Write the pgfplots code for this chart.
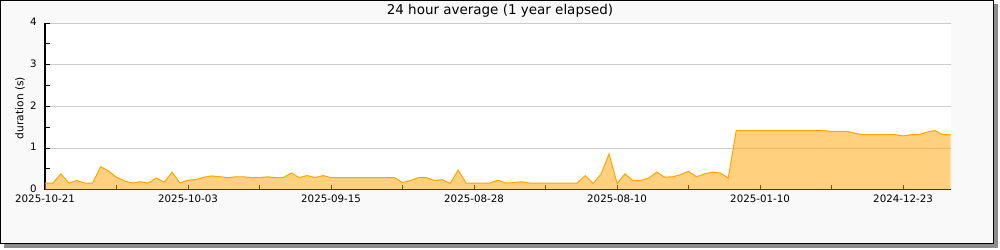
\documentclass[border=0pt]{standalone}
\usepackage{fontspec}
\setmainfont{DejaVu Sans}
\usepackage{pgfplots}
\usepackage{pgfplotstable}
\pgfplotsset{compat=1.18}
\definecolor{canvas}{HTML}{F9F9F9}
\definecolor{gridc}{HTML}{CCCCCC}
\definecolor{lineor}{HTML}{FFA500}
\pgfplotstableread{
d v
0 0.16
1 0.16
2 0.38
3 0.16
4 0.22
5 0.16
6 0.16
7 0.55
8 0.45
9 0.30
10 0.21
11 0.16
12 0.19
13 0.16
14 0.28
15 0.18
16 0.42
17 0.16
18 0.23
19 0.24
20 0.30
21 0.33
22 0.31
23 0.29
24 0.31
25 0.31
26 0.29
27 0.29
28 0.31
29 0.29
30 0.29
31 0.40
32 0.29
33 0.34
34 0.29
35 0.34
36 0.29
37 0.29
38 0.29
39 0.29
40 0.29
41 0.29
42 0.29
43 0.29
44 0.29
45 0.17
46 0.22
47 0.29
48 0.29
49 0.22
50 0.24
51 0.15
52 0.47
53 0.16
54 0.16
55 0.16
56 0.16
57 0.23
58 0.16
59 0.17
60 0.19
61 0.16
62 0.16
63 0.16
64 0.16
65 0.16
66 0.16
67 0.16
68 0.34
69 0.15
70 0.38
71 0.86
72 0.15
73 0.38
74 0.22
75 0.22
76 0.28
77 0.42
78 0.30
79 0.31
80 0.36
81 0.44
82 0.31
83 0.38
84 0.42
85 0.40
86 0.28
87 1.42
88 1.42
89 1.42
90 1.42
91 1.42
92 1.42
93 1.42
94 1.42
95 1.42
96 1.42
97 1.42
98 1.42
99 1.40
100 1.40
101 1.40
102 1.35
103 1.32
104 1.32
105 1.32
106 1.32
107 1.32
108 1.29
109 1.32
110 1.32
111 1.38
112 1.42
113 1.32
114 1.32
}\durdata
\begin{document}
\begin{tikzpicture}
\useasboundingbox (0,0) rectangle (750pt,187.5pt);
\fill[black!45] (3pt,1.5pt) rectangle (748.5pt,184.5pt);
\filldraw[fill=canvas, draw=black, line width=0.75pt] (0.375pt,4.875pt) rectangle (745.1pt,187.125pt);
\begin{axis}[
  at={(33.75pt,45.225pt)}, anchor=south west,
  scale only axis, width=679.3pt, height=125pt,
  xmin=0, xmax=114, ymin=0, ymax=4,
  axis background/.style={fill=white},
  axis x line*=bottom, axis y line*=left,
  axis line style={-, black, line width=0.75pt},
  xtick={0,9,...,108},
  xticklabels={2025-10-21,,2025-10-03,,2025-09-15,,2025-08-28,,2025-08-10,,2025-01-10,,2024-12-23},
  ytick={0,1,2,3,4},
  minor ytick={0.5,1.5,2.5,3.5},
  tick align=inside,
  major tick length=3.75pt, minor tick length=3.75pt,
  tick style={black, line width=0.75pt},
  ymajorgrids,
  major grid style={gridc, line width=0.75pt},
  ticklabel style={font=\fontsize{7.7}{9}\selectfont},
  /pgf/number format/assume math mode=true,
  xticklabel style={anchor=north, inner sep=0pt, yshift=-3.4pt},
  yticklabel style={anchor=east, inner sep=0pt, xshift=-6pt, yshift=0.6pt},
]
\addplot[draw=none, fill=lineor, fill opacity=0.5] table[x=d,y=v] {\durdata} \closedcycle;
\addplot[lineor, line width=0.75pt] table[x=d,y=v] {\durdata};
\end{axis}
\node[anchor=base, font=\fontsize{10.1}{12}\selectfont] at (375pt,176.25pt) {24 hour average (1 year elapsed)};
\node[rotate=90, font=\fontsize{8}{9}\selectfont] at (15pt,106.5pt) {duration (s)};
\end{tikzpicture}
\end{document}
